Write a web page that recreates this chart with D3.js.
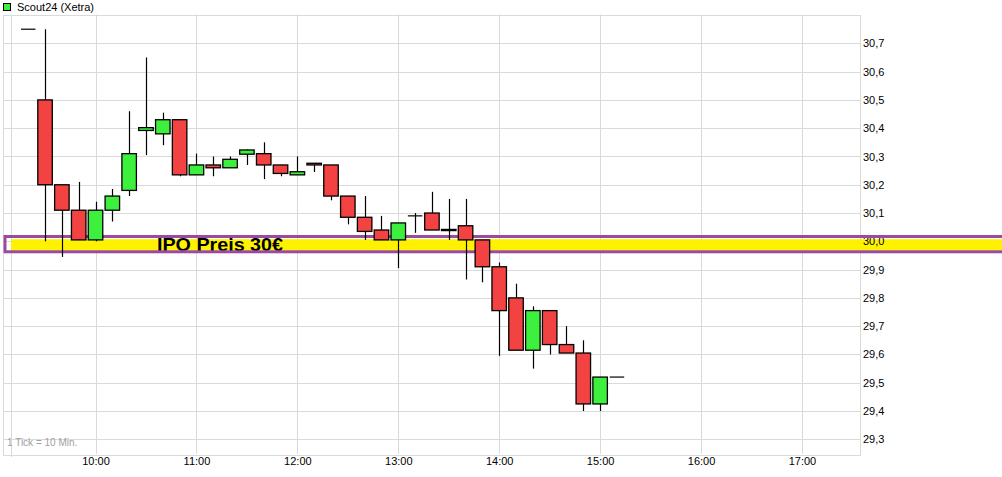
<!DOCTYPE html>
<html><head><meta charset="utf-8">
<script src="https://cdn.jsdelivr.net/npm/d3@7/dist/d3.min.js"></script>
<style>
body{margin:0;background:#fff;}
svg{display:block;font-family:"Liberation Sans",Arial,sans-serif;}
</style>
</head><body>
<svg id="chart" width="1002" height="477"></svg>
<script>
// ---- data (10-minute candles, Scout24 on Xetra) ----
const times  = ["09:20","09:30","09:40","09:50","10:00","10:10","10:20","10:30","10:40","10:50",
                "11:00","11:10","11:20","11:30","11:40","11:50","12:00","12:10","12:20","12:30",
                "12:40","12:50","13:00","13:10","13:20","13:30","13:40","13:50","14:00","14:10",
                "14:20","14:30","14:40","14:50","15:00","15:10"];
const opens  = [30.75,30.50,30.20,30.11,30.005,30.11,30.18,30.392,30.38,30.43,
                30.235,30.27,30.26,30.308,30.31,30.27,30.235,30.276,30.27,30.16,
                30.085,30.04,30.005,30.09,30.10,30.042,30.055,30.005,29.91,29.80,
                29.615,29.755,29.635,29.605,29.425,29.52];
const highs  = [30.75,30.75,30.20,30.21,30.14,30.185,30.46,30.65,30.455,30.43,
                30.31,30.30,30.30,30.325,30.35,30.27,30.30,30.276,30.27,30.16,
                30.16,30.09,30.065,30.10,30.175,30.15,30.15,30.005,29.925,29.85,
                29.77,29.755,29.70,29.65,29.52,29.52];
const lows   = [30.75,30.00,29.945,30.005,30.00,30.07,30.16,30.305,30.34,30.23,
                30.235,30.23,30.26,30.27,30.22,30.23,30.235,30.245,30.145,30.06,
                30.005,30.005,29.905,30.03,30.04,30.005,29.865,29.855,29.595,29.615,
                29.55,29.60,29.605,29.40,29.40,29.52];
const closes = [30.75,30.20,30.11,30.005,30.11,30.16,30.31,30.402,30.43,30.235,
                30.27,30.26,30.29,30.323,30.27,30.24,30.246,30.27,30.16,30.085,
                30.035,30.005,30.065,30.09,30.04,30.038,30.005,29.91,29.755,29.615,
                29.755,29.635,29.605,29.425,29.52,29.52];
const yTicks = [29.3,29.4,29.5,29.6,29.7,29.8,29.9,30.0,30.1,30.2,30.3,30.4,30.5,30.6,30.7];
const xTicks = ["10:00","11:00","12:00","13:00","14:00","15:00","16:00","17:00"];
const firstGrid = "09:10";
const title = "Scout24 (Xetra)";
const tickNote = "1 Tick = 10 Min.";
const ipoPrice = 30.0;
const ipoLabel = "IPO Preis 30€";

(function(){
// ---- setup ----
const toMin = s => +s.slice(0,2)*60 + +s.slice(3);
const svg = d3.select("#chart");
const W = 1002;
const pL = 3, pR = 860, pT = 14.5, pB = 454;
const x = d3.scaleLinear().domain([545, 1054.5]).range([pL, pR]);
const y = d3.scaleLinear().domain([29.248, 30.802]).range([pB, pT]);
const crisp = v => Math.round(v) + 0.5;
const RED = "#f24242", GREEN = "#3ef03e", GRID = "#dadada";

// grid
const g = svg.append("g");
g.selectAll("line.h").data(yTicks).join("line")
  .attr("x1", pL).attr("x2", pR)
  .attr("y1", d => crisp(y(d))).attr("y2", d => crisp(y(d)))
  .attr("stroke", GRID);
g.selectAll("line.v").data(xTicks).join("line")
  .attr("x1", d => crisp(x(toMin(d)))).attr("x2", d => crisp(x(toMin(d))))
  .attr("y1", pT).attr("y2", pB).attr("stroke", GRID);
g.append("line")
  .attr("x1", crisp(x(toMin(firstGrid)))).attr("x2", crisp(x(toMin(firstGrid))))
  .attr("y1", pT).attr("y2", pB + 3).attr("stroke", GRID);
g.append("rect").attr("x", crisp(pL)).attr("y", crisp(pT))
  .attr("width", Math.round(pR - pL)).attr("height", Math.round(pB - pT))
  .attr("fill", "none").attr("stroke", GRID);

// title / legend
svg.append("rect").attr("x", 3.5).attr("y", 3.5).attr("width", 7).attr("height", 7)
  .attr("fill", GREEN).attr("stroke", "#000");
svg.append("text").attr("x", 17).attr("y", 10.5).attr("font-size", 11).text(title);

// tick note
svg.append("text").attr("x", 7).attr("y", 445.5).attr("font-size", 10)
  .attr("fill", "#a0a0a0").text(tickNote);

// IPO band fill
svg.append("rect").attr("x", 11).attr("y", y(ipoPrice + 0.0075))
  .attr("width", W - 11).attr("height", y(ipoPrice - 0.033) - y(ipoPrice + 0.0075))
  .attr("fill", "#fff200");
svg.append("text").attr("x", 157).attr("y", y(ipoPrice) + 9.5)
  .attr("font-size", 19).attr("font-weight", "bold")
  .attr("textLength", 126).attr("lengthAdjust", "spacingAndGlyphs")
  .text(ipoLabel);

// axes
const fmtY = v => d3.format(".1f")(v).replace(".", ",");
const yAxis = svg.append("g").attr("transform", `translate(${pR},0)`)
  .call(d3.axisRight(y).tickValues(yTicks).tickSize(0).tickPadding(3).tickFormat(fmtY));
const xAxis = svg.append("g").attr("transform", `translate(0,${pB})`)
  .call(d3.axisBottom(x).tickValues(xTicks.map(toMin)).tickSize(0).tickPadding(3)
    .tickFormat(m => String(Math.floor(m/60)).padStart(2,"0") + ":" + String(m%60).padStart(2,"0")));
[yAxis, xAxis].forEach(a => {
  a.select(".domain").remove();
  a.selectAll("text").attr("font-size", 11).attr("fill", "#000")
    .attr("font-family", "'Liberation Sans',Arial,sans-serif");
});

// IPO band outline
svg.append("rect").attr("x", 5).attr("y", y(ipoPrice + 0.017))
  .attr("width", W + 20).attr("height", y(ipoPrice - 0.037) - y(ipoPrice + 0.017))
  .attr("fill", "none").attr("stroke", "#9b4a9f").attr("stroke-width", 3);

// candles
const data = times.map((t, i) => ({t: toMin(t), o: opens[i], h: highs[i], l: lows[i], c: closes[i]}));
const bw = 14.5;
const cg = svg.append("g");
const cand = cg.selectAll("g").data(data).join("g");
cand.filter(d => d.h > d.l).append("line")
  .attr("x1", d => crisp(x(d.t))).attr("x2", d => crisp(x(d.t)))
  .attr("y1", d => y(d.h)).attr("y2", d => y(d.l))
  .attr("stroke", "#000").attr("stroke-width", 1.2);
cand.filter(d => d.o !== d.c).append("rect")
  .attr("x", d => x(d.t) - bw/2).attr("width", bw)
  .attr("y", d => y(Math.max(d.o, d.c)))
  .attr("height", d => Math.abs(y(d.o) - y(d.c)))
  .attr("fill", d => d.c > d.o ? GREEN : RED)
  .attr("stroke", "#000").attr("stroke-width", 1.3);
cand.filter(d => d.o === d.c).append("line")
  .attr("x1", d => x(d.t) - bw/2).attr("x2", d => x(d.t) + bw/2)
  .attr("y1", d => y(d.o)).attr("y2", d => y(d.o))
  .attr("stroke", "#000").attr("stroke-width", 1.2);
})();
</script>
</body></html>
